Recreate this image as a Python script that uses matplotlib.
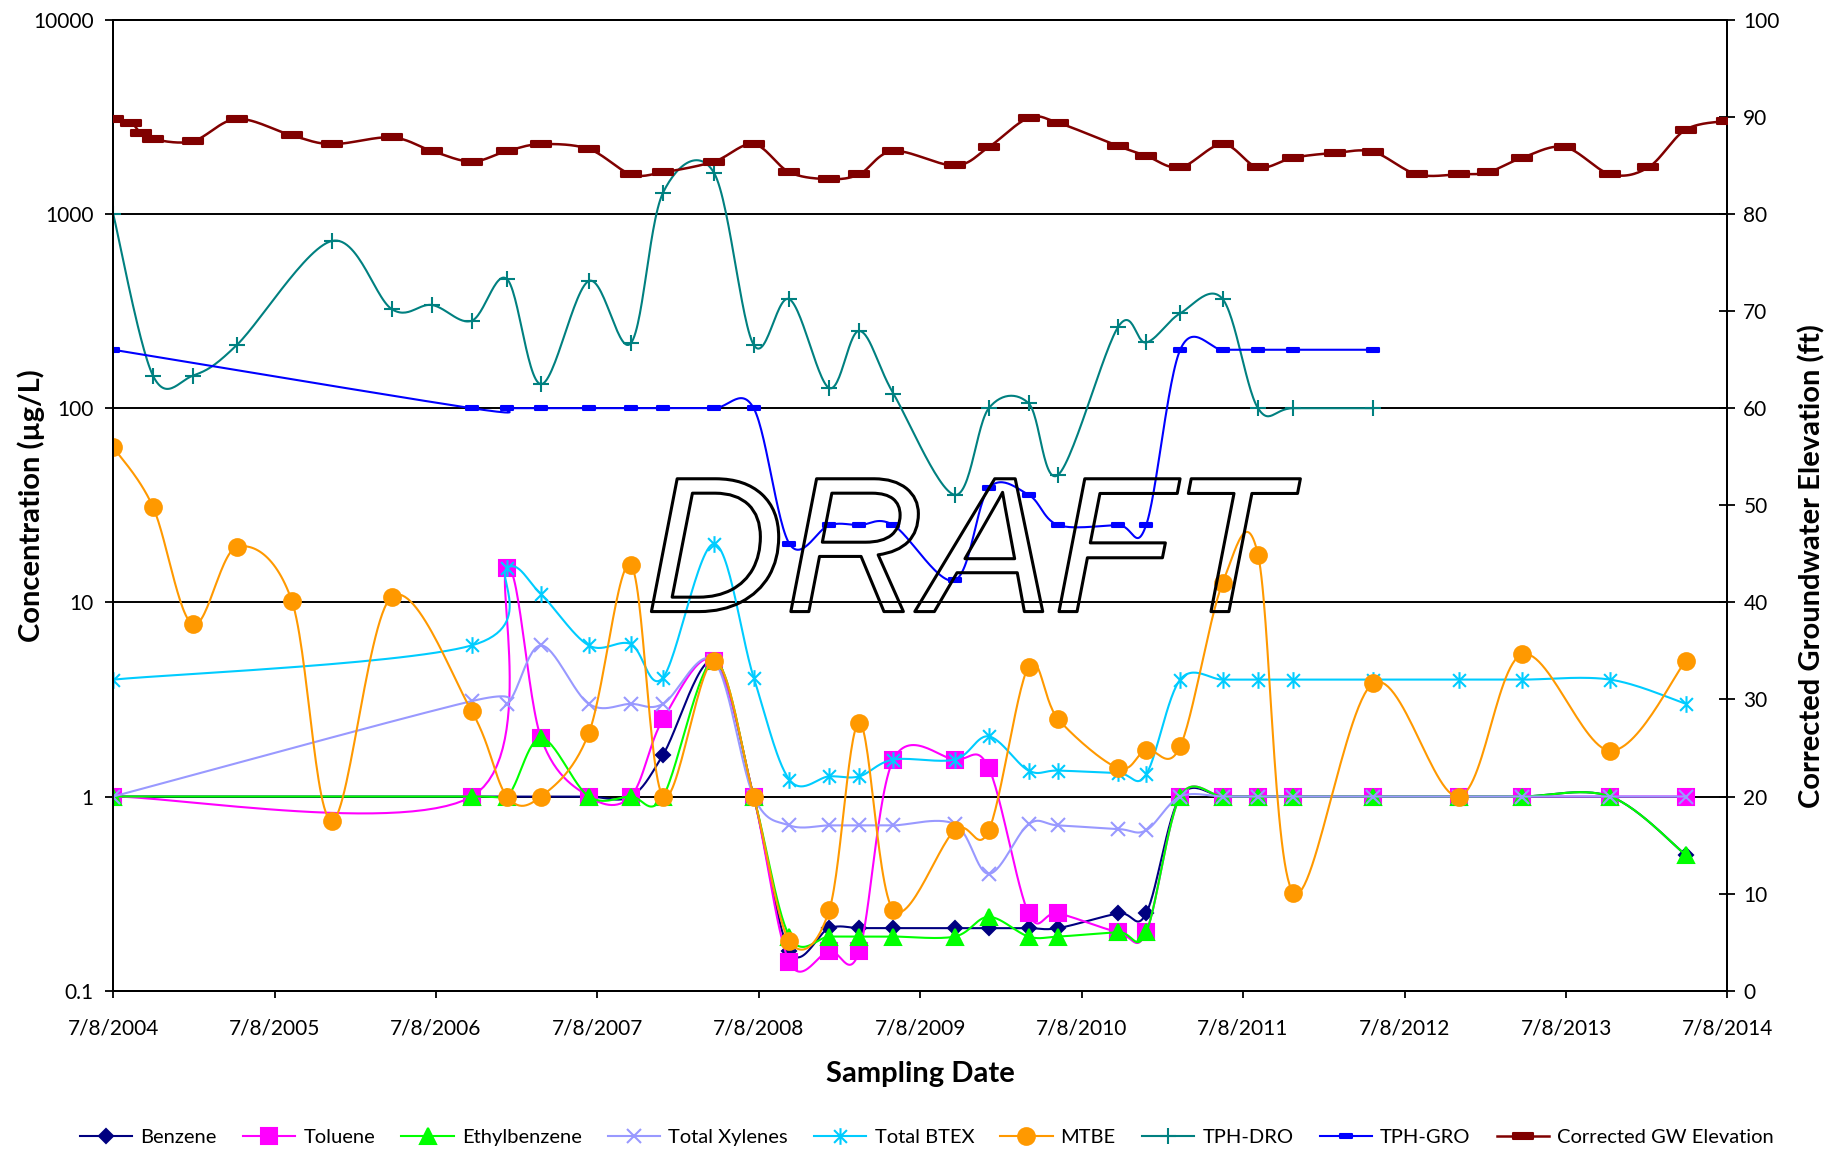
import numpy as np
import matplotlib
matplotlib.use("Agg")
import matplotlib.pyplot as plt
import matplotlib.dates as mdates
import matplotlib.patheffects as pe
from matplotlib.path import Path
from matplotlib.lines import Line2D
from matplotlib.ticker import FixedLocator, FuncFormatter, NullLocator

plt.rcParams['font.family'] = ['Lato', 'DejaVu Sans']

# --- sampling data (concentrations in ug/L, elevation in ft) ---
btex_dates = ['2004-07-08', '2006-09-27', '2006-12-16', '2007-03-03', '2007-06-19',
              '2007-09-22', '2007-12-04', '2008-03-28', '2008-06-26', '2008-09-15',
              '2008-12-14', '2009-02-20', '2009-05-08', '2009-09-24', '2009-12-10',
              '2010-03-10', '2010-05-16', '2010-09-29', '2010-12-01', '2011-02-16',
              '2011-05-23', '2011-08-11', '2011-10-30', '2012-04-28', '2012-11-08',
              '2013-03-31', '2013-10-16', '2014-04-05']
benzene = [1, 1, 1, 1, 1, 1, 1.64, 5, 1, 0.16, 0.21, 0.21, 0.21, 0.21, 0.21,
           0.21, 0.21, 0.25, 0.25, 1, 1, 1, 1, 1, 1, 1, 1, 0.5]
toluene = [1, 1, 15, 2, 1, 1, 2.5, 5, 1, 0.14, 0.16, 0.16, 1.55, 1.55, 1.4,
           0.25, 0.25, 0.2, 0.2, 1, 1, 1, 1, 1, 1, 1, 1, 1]
ethylbenzene = [1, 1, 1, 2, 1, 1, 1, 5, 1, 0.19, 0.19, 0.19, 0.19, 0.19, 0.24,
                0.19, 0.19, 0.2, 0.2, 1, 1, 1, 1, 1, 1, 1, 1, 0.5]
xylenes = [1, 3.1, 3, 6, 3, 3, 3, 5, 1, 0.71, 0.71, 0.71, 0.71, 0.72, 0.4,
           0.72, 0.71, 0.68, 0.67, 1, 1, 1, 1, 1, 1, 1, 1, 1]
total_btex = [4, 6, 15, 11, 6, 6.1, 4.1, 20, 4.1, 1.22, 1.27, 1.27, 1.55, 1.55, 2.04,
              1.36, 1.36, 1.32, 1.3, 4, 4, 4, 4, 4, 4, 4, 4, 3]

mtbe_dates = ['2004-07-08', '2004-10-06', '2005-01-04', '2005-04-14', '2005-08-16',
              '2005-11-15', '2006-03-30', '2006-09-27', '2006-12-16', '2007-03-03',
              '2007-06-19', '2007-09-22', '2007-12-04', '2008-03-28', '2008-06-26',
              '2008-09-15', '2008-12-14', '2009-02-20', '2009-05-08', '2009-09-24',
              '2009-12-10', '2010-03-10', '2010-05-16', '2010-09-29', '2010-12-01',
              '2011-02-16', '2011-05-23', '2011-08-11', '2011-10-30', '2012-04-28',
              '2012-11-08', '2013-03-31', '2013-10-16', '2014-04-05']
mtbe = [63, 31, 7.7, 19.3, 10.2, 0.75, 10.7, 2.75, 1, 1, 2.12, 15.6, 1, 5, 1,
        0.18, 0.26, 2.4, 0.26, 0.67, 0.67, 4.67, 2.5, 1.4, 1.74, 1.81, 12.6, 17.6,
        0.32, 3.84, 1, 5.4, 1.72, 5.0]

dro_dates = ['2004-07-08', '2004-10-06', '2005-01-04', '2005-04-14', '2005-11-15',
             '2006-03-30', '2006-06-29', '2006-09-27', '2006-12-16', '2007-03-03',
             '2007-06-19', '2007-09-22', '2007-12-04', '2008-03-28', '2008-06-26',
             '2008-09-15', '2008-12-14', '2009-02-20', '2009-05-08', '2009-09-24',
             '2009-12-10', '2010-03-10', '2010-05-16', '2010-09-29', '2010-12-01',
             '2011-02-16', '2011-05-23', '2011-08-11', '2011-10-30', '2012-04-28']
tph_dro = [1000, 147, 147, 212, 727, 324, 340, 282, 462, 133, 452, 216, 1289, 1634,
           212, 364, 127, 250, 119, 35.8, 100, 106, 45.4, 263, 218, 308, 365,
           100, 100, 100]

gro_dates = ['2004-07-08', '2006-09-27', '2006-12-16', '2007-03-03', '2007-06-19',
             '2007-09-22', '2007-12-04', '2008-03-28', '2008-06-26', '2008-09-15',
             '2008-12-14', '2009-02-20', '2009-05-08', '2009-09-24', '2009-12-10',
             '2010-03-10', '2010-05-16', '2010-09-29', '2010-12-01', '2011-02-16',
             '2011-05-23', '2011-08-11', '2011-10-30', '2012-04-28']
tph_gro = [200, 100, 100, 100, 100, 100, 100, 100, 100, 20, 25, 25, 25, 13, 38.7,
           35.8, 25, 25, 25, 200, 200, 200, 200, 200]

gw_dates = ['2004-07-08', '2004-08-17', '2004-09-09', '2004-10-06', '2005-01-04',
            '2005-04-14', '2005-08-16', '2005-11-15', '2006-03-30', '2006-06-29',
            '2006-09-27', '2006-12-16', '2007-03-03', '2007-06-19', '2007-09-22',
            '2007-12-04', '2008-03-28', '2008-06-26', '2008-09-15', '2008-12-14',
            '2009-02-20', '2009-05-08', '2009-09-24', '2009-12-10', '2010-03-10',
            '2010-05-16', '2010-09-29', '2010-12-01', '2011-02-16', '2011-05-23',
            '2011-08-11', '2011-10-30', '2012-02-02', '2012-04-28', '2012-08-04',
            '2012-11-08', '2013-01-12', '2013-03-31', '2013-07-05', '2013-10-16',
            '2014-01-10', '2014-04-05', '2014-07-08']
gw_elev = [89.8, 89.4, 88.3, 87.7, 87.5, 89.8, 88.1, 87.2, 87.9, 86.5, 85.4, 86.5,
           87.2, 86.7, 84.1, 84.3, 85.4, 87.2, 84.3, 83.6, 84.1, 86.5, 85.0, 86.9,
           89.9, 89.4, 87.0, 86.0, 84.8, 87.2, 84.8, 85.8, 86.3, 86.4, 84.1, 84.1,
           84.3, 85.8, 86.9, 84.1, 84.8, 88.7, 89.6]

year_ticks = [f'{y}-07-08' for y in range(2004, 2015)]
conc_ticks = [0.1, 1, 10, 100, 1000, 10000]
elev_ticks = list(range(0, 101, 10))

# marker shapes
asterisk = Path([(-1, -1), (1, 1), (-1, 1), (1, -1), (0, -1.3), (0, 1.3)],
                [Path.MOVETO, Path.LINETO, Path.MOVETO, Path.LINETO, Path.MOVETO, Path.LINETO])
small_dash = Path([(-1, -0.42), (1, -0.42), (1, 0.42), (-1, 0.42), (-1, -0.42)],
                  [Path.MOVETO, Path.LINETO, Path.LINETO, Path.LINETO, Path.CLOSEPOLY])
wide_dash = Path([(-1, -0.33), (1, -0.33), (1, 0.33), (-1, 0.33), (-1, -0.33)],
                 [Path.MOVETO, Path.LINETO, Path.LINETO, Path.LINETO, Path.CLOSEPOLY])


def smooth(xs, ys, steps=30):
    # spreadsheet-style smoothed line: Catmull-Rom pieces as cubic Beziers
    px = np.r_[xs[0], xs, xs[-1]]
    py = np.r_[ys[0], ys, ys[-1]]
    t = np.linspace(0.0, 1.0, steps)
    a, b, c, d = (1 - t) ** 3, 3 * (1 - t) ** 2 * t, 3 * (1 - t) * t ** 2, t ** 3
    sx, sy = [], []
    for i in range(1, len(px) - 2):
        c1x = px[i] + (px[i + 1] - px[i - 1]) / 6
        c1y = py[i] + (py[i + 1] - py[i - 1]) / 6
        c2x = px[i + 1] - (px[i + 2] - px[i]) / 6
        c2y = py[i + 1] - (py[i + 2] - py[i]) / 6
        sx.append(a * px[i] + b * c1x + c * c2x + d * px[i + 1])
        sy.append(a * py[i] + b * c1y + c * c2y + d * py[i + 1])
    return np.concatenate(sx), np.concatenate(sy)


def plot_series(axis, dates, vals, color, marker, ms, log=True, lw=1.5, mew=1.5, z=2):
    x = mdates.datestr2num(dates)
    v = np.asarray(vals, float)
    y = np.log10(v) if log else v
    sx, sy = smooth(x, y)
    axis.plot(sx, 10 ** sy if log else sy, color=color, lw=lw, zorder=z)
    axis.plot(x, v, ls='none', marker=marker, ms=ms, color=color, mfc=color,
              mec=color, mew=mew, zorder=z)
    return Line2D([], [], color=color, lw=lw, marker=marker, ms=ms, mfc=color,
                  mec=color, mew=mew)


fig = plt.figure(figsize=(18.32, 11.49), dpi=100)
ax = fig.add_axes([0.0618, 0.1378, 0.8811, 0.8449])
ax2 = ax.twinx()

handles = []
handles.append(plot_series(ax, btex_dates, benzene, '#000080', 'D', 7.5, z=2))
handles.append(plot_series(ax, btex_dates, toluene, '#FF00FF', 's', 11, z=3))
handles.append(plot_series(ax, btex_dates, ethylbenzene, '#00FF00', '^', 11, z=4))
handles.append(plot_series(ax, btex_dates, xylenes, '#9999FF', 'x', 9.5, z=5))
handles.append(plot_series(ax, btex_dates, total_btex, '#00CCFF', asterisk, 12, z=6))
handles.append(plot_series(ax, mtbe_dates, mtbe, '#FF9900', 'o', 12, z=7))
handles.append(plot_series(ax, dro_dates, tph_dro, '#008080', '+', 12, z=8))
handles.append(plot_series(ax, gro_dates, tph_gro, '#0000FF', small_dash, 8.5, z=9))
handles.append(plot_series(ax2, gw_dates, gw_elev, '#800000', wide_dash, 15, log=False,
                           lw=1.8, z=10))
labels = ['Benzene', 'Toluene', 'Ethylbenzene', 'Total Xylenes', 'Total BTEX', 'MTBE',
          'TPH-DRO', 'TPH-GRO', 'Corrected GW Elevation']

# left axis: log concentration
ax.set_yscale('log')
ax.set_ylim(0.1, 10000)
ax.yaxis.set_major_locator(FixedLocator(conc_ticks))
ax.yaxis.set_minor_locator(NullLocator())
ax.yaxis.set_major_formatter(FuncFormatter(lambda v, p: f'{v:g}'))
ax.yaxis.grid(True, color='black', lw=1.4)
ax.set_axisbelow(True)

# x axis: one tick per year
xt = mdates.datestr2num(year_ticks)
ax.set_xlim(xt[0], xt[-1])
ax.xaxis.set_major_locator(FixedLocator(xt))
ax.xaxis.set_minor_locator(NullLocator())


def date_label(v, pos):
    d = mdates.num2date(v)
    return f'{d.month}/{d.day}/{d.year}'


ax.xaxis.set_major_formatter(FuncFormatter(date_label))

# right axis: groundwater elevation
ax2.set_ylim(0, 100)
ax2.yaxis.set_major_locator(FixedLocator(elev_ticks))
ax2.yaxis.set_minor_locator(NullLocator())

for a in (ax, ax2):
    for s in a.spines.values():
        s.set_color('black')
        s.set_linewidth(1.4)

ax.tick_params(axis='y', which='major', direction='out', length=6, width=1.3,
               labelsize=15, pad=8)
ax.tick_params(axis='x', which='major', direction='out', length=5, width=1.3,
               labelsize=15, pad=15)
ax2.tick_params(axis='y', which='major', direction='inout', length=11, width=1.3,
                labelsize=15, pad=6)

ax.set_xlabel('Sampling Date', fontsize=21, fontweight='bold', va='center')
ax.xaxis.set_label_coords(0.5, -0.0854)
ax.set_ylabel('Concentration (µg/L)', fontsize=21, fontweight='bold', va='center')
ax.yaxis.set_label_coords(-0.0507, 0.5)
ax2.set_ylabel('Corrected Groundwater Elevation (ft)', fontsize=21, fontweight='bold',
               rotation=90, va='center')
ax2.yaxis.set_label_coords(1.0523, 0.437)

# outlined watermark
ax2.text(0.529, 0.442, 'DRAFT', transform=ax2.transAxes, fontsize=139,
         family='Liberation Sans', style='italic', color='none', ha='center',
         va='center', zorder=20,
         path_effects=[pe.Stroke(linewidth=2.2, foreground='black')])

fig.legend(handles, labels, loc='center', bbox_to_anchor=(0.506, 0.0104), ncol=9,
           frameon=False, fontsize=14.5, handlelength=2.6, handletextpad=0.4,
           columnspacing=1.3)

fig.savefig('out.png', dpi=100)
